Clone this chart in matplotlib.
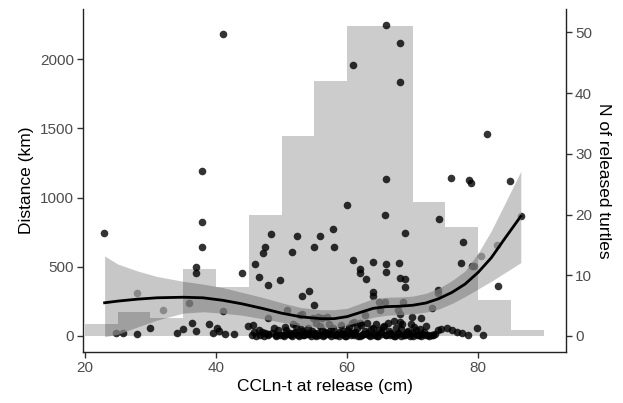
import numpy as np
import matplotlib
matplotlib.use("Agg")
import matplotlib.pyplot as plt

plt.rcParams['font.family'] = ['Liberation Sans', 'DejaVu Sans']

# histogram of released turtles (binwidth 5 cm)
bin_edges = [20, 25, 30, 35, 40, 45, 50, 55, 60, 65, 70, 75, 80, 85, 90]
n_released = [2, 4, 3, 11, 8, 20, 33, 42, 51, 51, 22, 18, 6, 1]

# recaptured turtles: CCLn-t (cm) and distance (km)
ccl_far = [22.9, 41.0, 37.9, 37.9, 37.9, 37.0, 37.0, 43.9, 48.35, 47.5, 47.1, 45.95, 46.5, 48.0, 49.8,
           66.0, 60.0, 65.75, 74.0, 75.9, 52.4, 55.9, 57.9, 58.0, 54.9, 51.55, 53.1, 54.25, 54.9,
           60.9, 61.9, 61.9, 62.95, 63.9, 66.0, 66.0, 67.9, 68.9, 68.0, 68.9, 68.9, 63.9, 63.9,
           77.7, 77.4, 73.9, 73.9, 66.0, 68.0, 60.9, 68.0, 81.4, 78.6, 78.9, 84.9, 83.0, 86.5,
           82.9, 80.4, 79.1, 79.4]
dist_far = [742, 2183, 1195, 822, 641, 497, 458, 458, 735, 641, 598, 520, 429, 369, 405,
            1133, 947, 875, 846, 1140, 725, 723, 771, 645, 643, 607, 291, 325, 222,
            547, 487, 453, 412, 535, 518, 465, 525, 742, 417, 410, 352, 320, 290,
            679, 525, 330, 308, 2248, 2115, 1959, 1834, 1458, 1125, 1108, 1123, 361, 867,
            658, 578, 508, 508]

ccl_mid = [28.0, 31.9, 35.9, 41.0, 47.9, 50.8, 52.8, 55.6, 56.9, 61.0, 62.75, 63.0, 64.8,
           65.8, 68.6, 65.0, 67.8, 68.1, 69.9, 71.2, 72.9, 54.85, 56.1, 62.0, 53.1]
dist_mid = [314, 185, 236, 183, 130, 188, 152, 140, 140, 103, 152, 92, 248,
            248, 248, 186, 188, 157, 140, 132, 200, 128, 128, 94, 157]

ccl_low = [24.8, 25.85, 28.0, 29.9, 34.0, 34.9, 36.4, 36.95, 38.9, 39.5, 40.1, 40.5, 41.4,
           42.75, 44.9, 45.7, 45.8, 46.5, 47.0, 47.5, 48.0, 48.85, 49.5, 49.2,
           72.9, 73.4, 73.9, 74.4, 75.2, 76.0, 76.8, 77.5, 78.5, 79.8, 80.8]
dist_low = [19, 19, 12, 55, 19, 48, 96, 38, 87, 24, 55, 38, 12,
            12, 72, 76, 31, 43, 31, 19, 12, 55, 43, 8,
            7, 15, 40, 50, 60, 43, 31, 19, 7, 60, 7]

ccl_dense = [50.2, 50.7, 51.1, 51.6, 52.0, 52.5, 52.9, 53.4, 53.8, 54.3, 54.7, 55.2, 55.6,
             56.1, 56.5, 57.0, 57.4, 57.9, 58.3, 58.8, 59.2, 59.7, 60.1, 60.6, 61.0, 61.5,
             61.9, 62.4, 62.8, 63.3, 63.7, 64.2, 64.6, 65.1, 65.5, 66.0, 66.4, 66.9, 67.3,
             67.8, 68.2, 68.7, 69.1, 69.6, 70.0, 70.5, 70.9, 71.4, 71.8, 72.3,
             50.5, 51.3, 52.2, 53.1, 54.0, 54.9, 55.8, 56.7, 57.6, 58.5, 59.4, 60.3, 61.2,
             62.1, 63.0, 63.9, 64.8, 65.7, 66.6, 67.5, 68.4, 69.3, 70.2, 71.1, 72.0,
             45.5, 46.1, 46.7, 47.3, 47.9, 48.5, 49.1, 49.7, 50.3, 50.9, 51.5, 52.1, 52.7,
             53.3, 53.9, 54.5, 55.1, 55.7, 56.3, 56.9, 57.5, 58.1, 58.7, 59.3, 59.9, 60.5,
             61.1, 61.7, 62.3, 62.9, 63.5, 64.1, 64.7, 65.3, 65.9, 66.5, 67.1, 67.7, 68.3,
             68.9, 69.5, 70.1, 70.7, 71.3, 71.9, 72.5, 73.1,
             51.8, 55.3, 57.2, 59.0, 60.8, 64.4, 66.2, 67.1, 68.0, 69.8]
dist_dense = [8, 40, 15, 3, 28, 10, 52, 5, 22, 12, 35, 2, 18,
              45, 6, 25, 11, 60, 4, 30, 14, 2, 42, 9, 20, 55,
              3, 16, 33, 7, 48, 12, 2, 26, 65, 5, 38, 14, 3,
              22, 50, 8, 30, 2, 18, 44, 6, 12, 28, 4,
              62, 25, 70, 36, 58, 20, 75, 32, 48, 15, 38, 68, 30,
              80, 24, 58, 40, 72, 20, 55, 85, 35, 62, 48, 70,
              5, 0, 10, 2, 6, 18, 1, 9, 0, 12, 4, 20, 1,
              8, 14, 0, 6, 10, 2, 16, 0, 7, 3, 11, 1, 19,
              5, 0, 9, 13, 2, 6, 0, 15, 4, 8, 1, 12, 0,
              5, 17, 2, 9, 0, 6, 3, 10,
              88, 92, 90, 82, 95, 90, 95, 110, 98, 88]

# smoothed fit and its confidence band
fit_x = [23, 25, 28, 31, 35, 38, 41, 44, 47, 50, 53, 56, 58, 60, 62, 64, 66, 68, 70,
         72, 74, 76, 78, 80, 82, 84, 86.5]
fit_y = [240, 252, 266, 276, 280, 276, 258, 232, 200, 165, 138, 125, 125, 140, 170, 200,
         212, 215, 222, 238, 270, 315, 375, 460, 565, 700, 865]
fit_lo = [-5, 12, 65, 115, 165, 175, 165, 150, 125, 100, 75, 60, 62, 78, 105, 135, 150,
          155, 160, 172, 195, 235, 285, 340, 395, 455, 530]
fit_hi = [578, 520, 470, 430, 395, 375, 350, 315, 280, 240, 205, 190, 190, 200, 235, 270,
          280, 282, 288, 308, 345, 400, 470, 600, 760, 950, 1190]

ccl = ccl_far + ccl_mid + ccl_low + ccl_dense
dist = dist_far + dist_mid + dist_low + dist_dense

fig = plt.figure(figsize=(6.23, 4.03), dpi=100)
ax = fig.add_axes([0.1332, 0.1266, 0.7753, 0.8511])
ax2 = ax.twinx()

ax.scatter(ccl, dist, s=30, color='black', alpha=0.8, linewidths=0, zorder=2)
ax.fill_between(fit_x, fit_lo, fit_hi, color='#b0b0b0', alpha=0.7, linewidth=0, zorder=3)
ax.plot(fit_x, fit_y, color='black', lw=2.0, zorder=4)

ax2.stairs(n_released, bin_edges, fill=True, color='black', alpha=0.2, linewidth=0)

ax.set_xlim(19.7, 93.4)
ax.set_ylim(-115.6, 2363)
ax2.set_ylim(-2.64, 53.87)
ax.set_xticks([20, 40, 60, 80])
ax.set_yticks([0, 500, 1000, 1500, 2000])
ax2.set_yticks([0, 10, 20, 30, 40, 50])

for a in (ax, ax2):
    a.spines['top'].set_visible(False)
    a.tick_params(length=4, width=1.0, color='#333333', labelsize=11,
                  labelcolor='#4d4d4d', pad=2.5)
ax.spines['right'].set_visible(False)
ax2.spines['left'].set_visible(False)
ax2.spines['bottom'].set_visible(False)
for s in ('left', 'bottom'):
    ax.spines[s].set_linewidth(1.0)
    ax.spines[s].set_color('#222222')
ax2.spines['right'].set_linewidth(1.0)
ax2.spines['right'].set_color('#222222')

ax.set_xlabel('CCLn-t at release (cm)', fontsize=12.5, labelpad=3)
ax.set_ylabel('Distance (km)', fontsize=12.5, labelpad=4)
ax2.set_ylabel('N of released turtles', fontsize=12.5, rotation=270, labelpad=14)

fig.savefig('out.png', dpi=100)
